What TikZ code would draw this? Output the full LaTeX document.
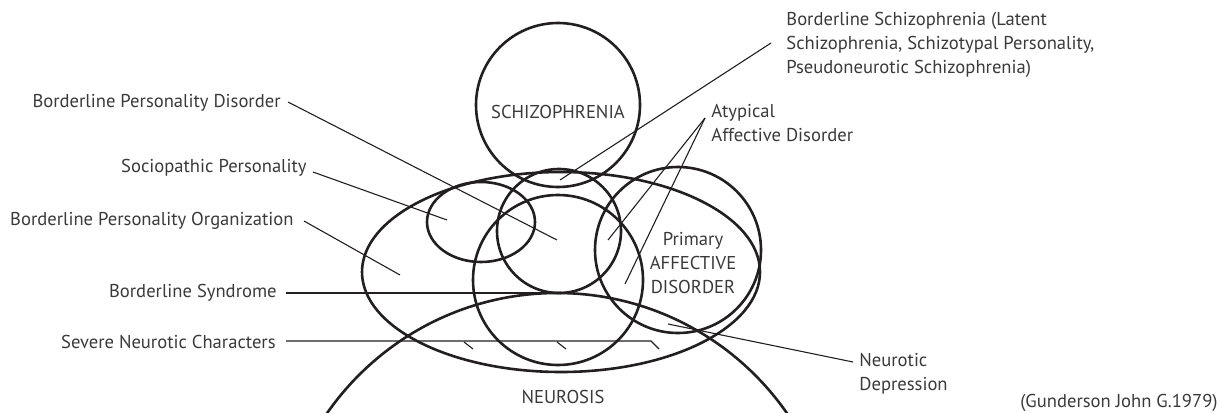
\documentclass[tikz,border=0pt]{standalone}
\usepackage{fontspec}
\setmainfont{PT Sans}
\definecolor{ink}{HTML}{231F20}
\definecolor{txt}{HTML}{3A3A3A}
\begin{document}
\begin{tikzpicture}[x=0.5pt,y=-0.5pt,
  venn/.style={line width=1.3pt, draw=ink},
  lead/.style={line width=0.55pt, draw=ink},
  lbl/.style={font=\fontsize{9.3}{12}\selectfont, text=txt, inner sep=0pt}]
\useasboundingbox (0,0) rectangle (1225,412);

% ---- regions
\draw[venn] (558,105) circle [radius=41pt];
\draw[venn] (559,231) circle [radius=31pt];
\draw[venn] (561,272) ellipse [x radius=99.5pt, y radius=50pt];
\draw[venn] (481,222) ellipse [x radius=27pt, y radius=20pt];
\draw[venn] (558,280) circle [radius=42.5pt];
\draw[venn] (678,250) circle [radius=41.5pt];
\begin{scope}
\clip (0,0) rectangle (1225,412);
\draw[venn] (557,573) circle [radius=140pt];
\end{scope}

% ---- region labels
\node[lbl] (schiz) at (558,112) {SCHIZOPHRENIA};
\node[lbl, align=center] (paff) at (693,263) {Primary\\AFFECTIVE\\DISORDER};
\node[lbl] (neur) at (563,397) {NEUROSIS};
\node[lbl, anchor=east] (gund) at (1218,403) {(Gunderson John G.1979)};

% ---- side labels
\node[lbl, anchor=base east] (bpd) at (281,107) {Borderline Personality Disorder};
\node[lbl, anchor=base east] (socio) at (307,172) {Sociopathic Personality};
\node[lbl, anchor=base east] (bpo) at (294,225) {Borderline Personality Organization};
\node[lbl, anchor=base east] (bsyn) at (277,297) {Borderline Syndrome};
\node[lbl, anchor=base east] (snc) at (276,348) {Severe Neurotic Characters};
\node[lbl, anchor=north west, align=left] (bschiz) at (786,12)
  {Borderline Schizophrenia (Latent\\Schizophrenia, Schizotypal Personality,\\Pseudoneurotic Schizophrenia)};
\node[lbl, anchor=north west, align=left] (atyp) at (711,104) {Atypical\\Affective Disorder};
\node[lbl, anchor=north west, align=left] (ndep) at (859,353) {Neurotic\\Depression};

% ---- leader end points
\coordinate (bpdS) at (288,102);   \coordinate (bpdE) at (557,240);
\coordinate (socS) at (313,172);   \coordinate (socE) at (447,220);
\coordinate (bpoS) at (304,221);   \coordinate (bpoE) at (400,275);
\coordinate (bsyS) at (286,293);   \coordinate (bsyE) at (553,293);
\coordinate (sncS) at (286,341);   \coordinate (sncK) at (651,341);
\coordinate (sncE) at (659,349);
\coordinate (t1a) at (464,342);    \coordinate (t1b) at (473,349);
\coordinate (t2a) at (557,342);    \coordinate (t2b) at (566,349);
\coordinate (bscS) at (771,43);    \coordinate (bscE) at (560,180);
\coordinate (atyS) at (705,118);
\coordinate (atyE1) at (608,240);  \coordinate (atyE2) at (625,284);
\coordinate (ndS) at (853,362);    \coordinate (ndE) at (668,324);

% ---- leaders
\draw[lead] (bpdS) -- (bpdE);
\draw[lead] (socS) -- (socE);
\draw[lead] (bpoS) -- (bpoE);
\draw[lead] (bsyS) -- (bsyE);
\draw[lead] (sncS) -- (sncK) -- (sncE);
\draw[lead] (t1a) -- (t1b);
\draw[lead] (t2a) -- (t2b);
\draw[lead] (bscS) -- (bscE);
\draw[lead] (atyS) -- (atyE1);
\draw[lead] (atyS) -- (atyE2);
\draw[lead] (ndS) -- (ndE);
\end{tikzpicture}
\end{document}
